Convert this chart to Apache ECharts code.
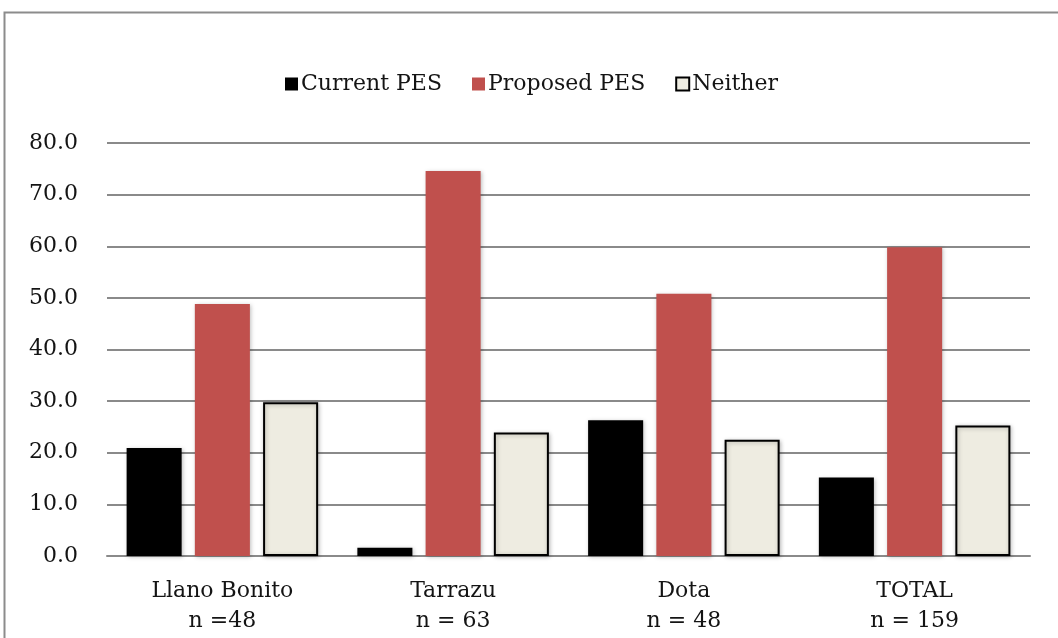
<!DOCTYPE html>
<html>
<head>
<meta charset="utf-8">
<script src="https://cdn.jsdelivr.net/npm/echarts@6/dist/echarts.min.js"></script>
<style>
  html, body { margin: 0; padding: 0; background: #ffffff; }
  #chart { width: 1058px; height: 638px; }
</style>
</head>
<body>
<div id="chart"></div>
<script>
// Share of respondents (%) preferring each payment-for-ecosystem-services scheme
const categories = ['Llano Bonito\nn =48', 'Tarrazu\nn = 63', 'Dota\nn = 48', 'TOTAL\nn = 159'];
const currentPES = [20.9, 1.6, 26.3, 15.2];
const proposedPES = [48.8, 74.6, 50.8, 59.8];
const neither = [29.8, 23.9, 22.5, 25.3];
const seriesNames = ['Current PES', 'Proposed PES', 'Neither'];

const FONT = '"DejaVu Serif", "Liberation Serif", serif';
const TEXT = '#141414';
const GRID_LINE = '#8a8a8a';
const barShadow = { shadowBlur: 4, shadowColor: 'rgba(0,0,0,0.25)', shadowOffsetX: 1, shadowOffsetY: 1 };

const chart = echarts.init(document.getElementById('chart'), null, { renderer: 'canvas' });

chart.setOption({
  animation: false,
  backgroundColor: '#ffffff',
  textStyle: { fontFamily: FONT },
  graphic: [{
    type: 'rect',
    shape: { x: 4.5, y: 12.5, width: 1100, height: 700 },
    style: { fill: 'none', stroke: '#8c8c8c', lineWidth: 2 },
    silent: true
  }],
  legend: {
    top: 68,
    left: 280,
    itemWidth: 13,
    itemHeight: 13,
    itemGap: 30,
    data: [
      { name: seriesNames[0], icon: 'rect' },
      { name: seriesNames[1], icon: 'rect' },
      { name: seriesNames[2], icon: 'rect' }
    ],
    textStyle: { fontFamily: FONT, fontSize: 22, color: TEXT, padding: [0, 0, 0, -2] }
  },
  grid: { left: 107, right: 28, top: 143, bottom: 82, containLabel: false },
  xAxis: {
    type: 'category',
    data: categories,
    axisTick: { show: false },
    axisLine: { show: true, lineStyle: { color: GRID_LINE, width: 2 } },
    axisLabel: {
      fontFamily: FONT, fontSize: 22, color: TEXT,
      lineHeight: 30, margin: 20, interval: 0
    }
  },
  yAxis: {
    type: 'value',
    min: 0, max: 80, interval: 10,
    axisLine: { show: false },
    axisTick: { show: false },
    splitLine: { show: true, lineStyle: { color: GRID_LINE, width: 2 } },
    axisLabel: {
      fontFamily: FONT, fontSize: 22, color: TEXT, margin: 29,
      formatter: v => v.toFixed(1)
    }
  },
  series: [
    {
      name: seriesNames[0], type: 'bar', data: currentPES,
      barGap: '24%', barCategoryGap: '17%',
      itemStyle: Object.assign({ color: '#000000' }, barShadow)
    },
    {
      name: seriesNames[1], type: 'bar', data: proposedPES,
      itemStyle: Object.assign({ color: '#c0504d' }, barShadow)
    },
    {
      name: seriesNames[2], type: 'bar', data: neither,
      itemStyle: Object.assign({ color: '#eeece1', borderColor: '#000000', borderWidth: 2 }, barShadow)
    }
  ]
});
</script>
</body>
</html>
